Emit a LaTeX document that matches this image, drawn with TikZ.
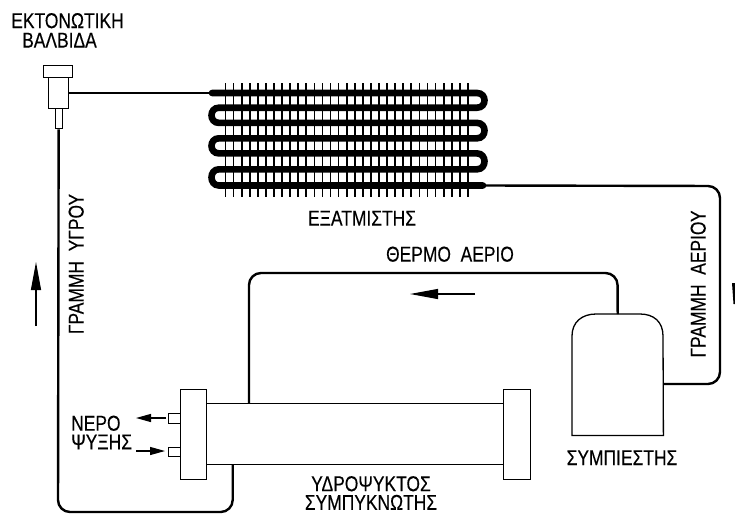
\documentclass[tikz,border=0pt]{standalone}
\usepackage{fontspec}
\newfontfamily\cad[FakeStretch=0.81,FakeBold=0.25]{Liberation Sans}
\usetikzlibrary{arrows.meta}
\tikzset{
  box/.style={draw=black,line width=1.3pt,fill=white,inner sep=0pt,anchor=north west},
  pipe/.style={draw=black,line width=2.4pt,rounded corners=12pt},
  thinpipe/.style={draw=black,line width=2.2pt},
  coil/.style={draw=black,line width=6.6pt,line cap=round},
  fin/.style={draw=black,line width=1.7pt},
  flowbig/.style={draw=black,line width=1.2pt,-{Triangle[length=28pt,width=10pt]}},
  flowsmall/.style={draw=black,line width=1.2pt,-{Triangle[length=15pt,width=8pt]}},
  lab/.style={font=\cad\fontsize{21.5}{21.5}\selectfont,inner sep=0pt,text=black,align=center,text height=15.2pt,text depth=0pt},
  labtwo/.style={font=\cad\fontsize{21.5}{18.7}\selectfont,inner sep=0pt,text=black},
}
\begin{document}
\begin{tikzpicture}[x=1pt,y=-1pt]
\useasboundingbox (0,0) rectangle (735,514);
\fill[white] (0,0) rectangle (735,514);
% fins
\foreach \i in {0,...,30}{
  \draw[fin] ({225.5+\i*8.08},83) -- ({225.5+\i*8.08},197);
}
% evaporator coil
\coordinate (evapin) at (212,93);
\coordinate (evapout) at (483,185.5);
\draw[coil] (evapin) -- (477,93)
  .. controls (487,93) and (487,107.7) .. (477,107.7) -- (219,107.7)
  .. controls (209,107.7) and (209,122.9) .. (219,122.9) -- (477,122.9)
  .. controls (487,122.9) and (487,138.3) .. (477,138.3) -- (219,138.3)
  .. controls (209,138.3) and (209,153.4) .. (219,153.4) -- (477,153.4)
  .. controls (487,153.4) and (487,169.3) .. (477,169.3) -- (219,169.3)
  .. controls (209,169.3) and (209,185.5) .. (219,185.5) -- (evapout);
% valve
\node[box,minimum width=20pt,minimum height=31pt] (valvebody) at (48,77) {};
\node[box,minimum width=29pt,minimum height=12pt] (valvecap) at (43,65) {};
\node[box,minimum width=7pt,minimum height=20pt] (valvestem) at (54.5,108) {};
% condenser
\node[box,minimum width=297pt,minimum height=61pt] (condtube) at (206,403) {};
\node[box,minimum width=26pt,minimum height=90pt] (flangeL) at (180,389) {};
\node[box,minimum width=27pt,minimum height=90pt] (flangeR) at (503,389) {};
\node[box,minimum width=12pt,minimum height=10pt] (stubA) at (168,413) {};
\node[box,minimum width=12pt,minimum height=9pt] (stubB) at (168,447) {};
% compressor
\node[inner sep=0pt,minimum width=91pt,minimum height=121pt,anchor=north west] (comp) at (572,314) {};
\draw[line width=1.3pt] (comp.south west) -- (572,336) .. controls (572,322) and (582,314) .. (596,314) -- (640,314) .. controls (654,314) and (663,322) .. (663,336) -- (comp.south east) -- cycle;
% connection points
\coordinate (gasout) at (663,384);
\coordinate (hotstart) at (249,403);
\coordinate (liqend) at (232.7,464);
\coordinate (bottomL) at (58,512);
\coordinate (bottomR) at (232.7,512);
\coordinate (hotA) at (249,273);
\coordinate (hotB) at (617.5,273);
\coordinate (gasA) at (720,384);
\coordinate (gasB) at (720,186);
% connectors
\draw[thinpipe] (evapin) -- (valvebody.east |- evapin);
\draw[pipe] (valvestem.south) -- (bottomL) -- (bottomR) -- (liqend);
\draw[pipe] (hotstart) -- (hotA) -- (hotB) -- (comp.north);
\draw[pipe] (gasout) -- (gasA) -- (gasB) -- (evapout);
% flow arrows
\coordinate (a1s) at (36,326); \coordinate (a1e) at (36,262);
\coordinate (a2s) at (475,294); \coordinate (a2e) at (410,294);
\coordinate (a3s) at (166,418); \coordinate (a3e) at (136,418);
\coordinate (a4s) at (136,451); \coordinate (a4e) at (165,451);
\draw[flowbig] (a1s) -- (a1e);
\draw[flowbig] (a2s) -- (a2e);
\draw[flowsmall] (a3s) -- (a3e);
\draw[flowsmall] (a4s) -- (a4e);
% sliver at right edge
\fill[black] (732,283) -- (735,283) -- (735,304) -- (733.5,304) -- cycle;
% labels
\node[lab] (l1) at (67.5,20.5) {ΕΚΤΟΝΩΤΙΚΗ};
\node[lab] (l2) at (59.5,40) {ΒΑΛΒΙΔΑ};
\node[lab] (l3) at (362,218) {ΕΞΑΤΜΙΣΤΗΣ};
\node[lab] (l4) at (450,254) {ΘΕΡΜΟ\ \ ΑΕΡΙΟ};
\node[lab,rotate=90] (l5) at (76,264) {ΓΡΑΜΜΗ\ \ ΥΓΡΟΥ};
\node[lab,rotate=90] (l6) at (698,284) {ΓΡΑΜΜΗ\ \ ΑΕΡΙΟΥ};
\node[lab] (l7) at (622,457.5) {ΣΥΜΠΙΕΣΤΗΣ};
\node[labtwo,align=center] (l8) at (371,493) {ΥΔΡΟΨΥΚΤΟΣ\\ΣΥΜΠΥΚΝΩΤΗΣ};
\node[labtwo,align=left,anchor=west] (l10) at (71,432.5) {ΝΕΡΟ\\ΨΥΞΗΣ};
\end{tikzpicture}
\end{document}
